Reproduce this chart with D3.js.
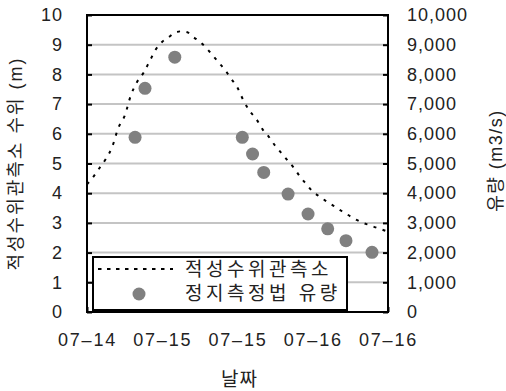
<!DOCTYPE html>
<html>
<head>
<meta charset="utf-8">
<script src="https://cdn.jsdelivr.net/npm/d3@7/dist/d3.min.js"></script>
<style>
  body { margin: 0; background: #fff; }
  text { font-family: "Liberation Sans", "Noto Sans CJK KR", sans-serif; fill: #222; }
</style>
</head>
<body>
<div id="chart"></div>
<script>
// water level at 적성 gauge, hourly from 07-14 12:00 (m)
const levelStart = "2020-07-14 12:00"
const levelValues = [
  4.3, 4.55, 4.85, 5.15, 5.55, 6.2, 6.6, 7.3, 7.75, 8.05,
  8.45, 8.85, 9.1, 9.25, 9.4, 9.45, 9.42, 9.25, 9.1, 8.9,
  8.65, 8.4, 8.15, 7.85, 7.55, 7.1, 6.75, 6.5, 6.15, 5.9,
  5.6, 5.35, 5.1, 4.85, 4.55, 4.3, 4.05, 3.9, 3.75, 3.62,
  3.48, 3.35, 3.22, 3.1, 3.0, 2.93, 2.85, 2.78, 2.7
]

// discharge by float/stationary measurement (m3/s)
const flowTimes = [
  "2020-07-14 19:40", "2020-07-14 21:15", "2020-07-15 02:00", "2020-07-15 12:46",
  "2020-07-15 14:24", "2020-07-15 16:11", "2020-07-15 20:04", "2020-07-15 23:15",
  "2020-07-16 02:23", "2020-07-16 05:18", "2020-07-16 09:27"
]
const flowValues = [5880, 7530, 8580, 5880, 5320, 4700, 3970, 3300, 2800, 2400, 2010]

const tickTimes = ["2020-07-14 12:00", "2020-07-15 00:00", "2020-07-15 12:00", "2020-07-16 00:00", "2020-07-16 12:00"]
const tickLabels = ["07–14", "07–15", "07–15", "07–16", "07–16"]
const leftTicks = [0, 1, 2, 3, 4, 5, 6, 7, 8, 9, 10]
const rightTicks = [0, 1000, 2000, 3000, 4000, 5000, 6000, 7000, 8000, 9000, 10000]

const seriesNames = ["적성수위관측소", "정지측정법 유량"]

const width = 506, height = 391
const margin = { top: 15, right: 118, bottom: 79, left: 87 }
const innerW = width - margin.left - margin.right
const innerH = height - margin.top - margin.bottom

const parse = d3.timeParse("%Y-%m-%d %H:%M")
const t0 = parse(levelStart)
const levelData = levelValues.map((v, i) => ({ t: d3.timeHour.offset(t0, i), v }))
const flowData = flowValues.map((v, i) => ({ t: parse(flowTimes[i]), v }))
const tickDates = tickTimes.map(parse)

const svg = d3.select("#chart").append("svg")
  .attr("width", width)
  .attr("height", height)

const g = svg.append("g").attr("transform", `translate(${margin.left},${margin.top})`)

const x = d3.scaleTime()
  .domain([tickDates[0], tickDates[tickDates.length - 1]])
  .range([0, innerW])
const yL = d3.scaleLinear().domain([0, 10]).range([innerH, 0])
const yR = d3.scaleLinear().domain([0, 10000]).range([innerH, 0])

// gridlines
g.append("g")
  .selectAll("line")
  .data(leftTicks.filter(d => d > 0 && d < 10))
  .join("line")
  .attr("x1", 0)
  .attr("x2", innerW)
  .attr("y1", d => yL(d))
  .attr("y2", d => yL(d))
  .attr("stroke", "#c4c4c4")
  .attr("stroke-width", 2)

// axes (ticks point inward)
const styleAxis = sel => {
  sel.select(".domain").remove()
  sel.selectAll(".tick line").attr("stroke", "#000").attr("stroke-width", 2)
  sel.selectAll(".tick text")
    .attr("fill", "#222")
    .attr("font-size", 18)
    .attr("letter-spacing", 1)
}

g.append("g")
  .call(d3.axisLeft(yL).tickValues(leftTicks).tickSize(-5).tickPadding(24).tickFormat(d3.format("d")))
  .call(styleAxis)

g.append("g")
  .attr("transform", `translate(${innerW},0)`)
  .call(d3.axisRight(yR).tickValues(rightTicks).tickSize(-5).tickPadding(19).tickFormat(d3.format(",")))
  .call(styleAxis)

g.append("g")
  .attr("transform", `translate(0,${innerH})`)
  .call(d3.axisBottom(x).tickValues(tickDates).tickSize(-5).tickPadding(21).tickFormat((d, i) => tickLabels[i]))
  .call(styleAxis)
  .call(sel => sel.selectAll(".tick text").attr("letter-spacing", 1.8))

// frame
g.append("rect")
  .attr("width", innerW)
  .attr("height", innerH)
  .attr("fill", "none")
  .attr("stroke", "#000")
  .attr("stroke-width", 2)

// water level line
g.append("path")
  .datum(levelData)
  .attr("fill", "none")
  .attr("stroke", "#000")
  .attr("stroke-width", 2)
  .attr("stroke-dasharray", "3,6.5")
  .attr("d", d3.line().x(d => x(d.t)).y(d => yL(d.v)).curve(d3.curveMonotoneX))

// discharge points
g.append("g")
  .selectAll("circle")
  .data(flowData)
  .join("circle")
  .attr("cx", d => x(d.t))
  .attr("cy", d => yR(d.v))
  .attr("r", 6.5)
  .attr("fill", "#808080")

// legend
const legend = g.append("g").attr("transform", "translate(6,242)")
legend.append("rect")
  .attr("width", 254)
  .attr("height", 53)
  .attr("fill", "#fff")
  .attr("stroke", "#000")
  .attr("stroke-width", 2)
legend.append("line")
  .attr("x1", 5).attr("x2", 80)
  .attr("y1", 12).attr("y2", 12)
  .attr("stroke", "#000")
  .attr("stroke-width", 2)
  .attr("stroke-dasharray", "3.5,5.5")
legend.append("circle")
  .attr("cx", 46).attr("cy", 37)
  .attr("r", 6.5)
  .attr("fill", "#808080")
legend.selectAll("text")
  .data(seriesNames)
  .join("text")
  .attr("x", 92)
  .attr("y", (d, i) => 19 + i * 24)
  .attr("font-size", 19)
  .attr("letter-spacing", 3.5)
  .text(d => d)

// axis titles
svg.append("text")
  .attr("transform", `translate(22,${margin.top + innerH / 2}) rotate(-90)`)
  .attr("text-anchor", "middle")
  .attr("font-size", 18)
  .attr("letter-spacing", 2)
  .text("적성수위관측소 수위 (m)")

svg.append("text")
  .attr("transform", `translate(502,${margin.top + innerH / 2 - 3}) rotate(-90)`)
  .attr("text-anchor", "middle")
  .attr("font-size", 18)
  .attr("letter-spacing", 1.5)
  .text("유량 (m3/s)")

svg.append("text")
  .attr("x", margin.left + innerW / 2 + 2)
  .attr("y", 386)
  .attr("text-anchor", "middle")
  .attr("font-size", 19)
  .attr("letter-spacing", 1)
  .text("날짜")
</script>
</body>
</html>
